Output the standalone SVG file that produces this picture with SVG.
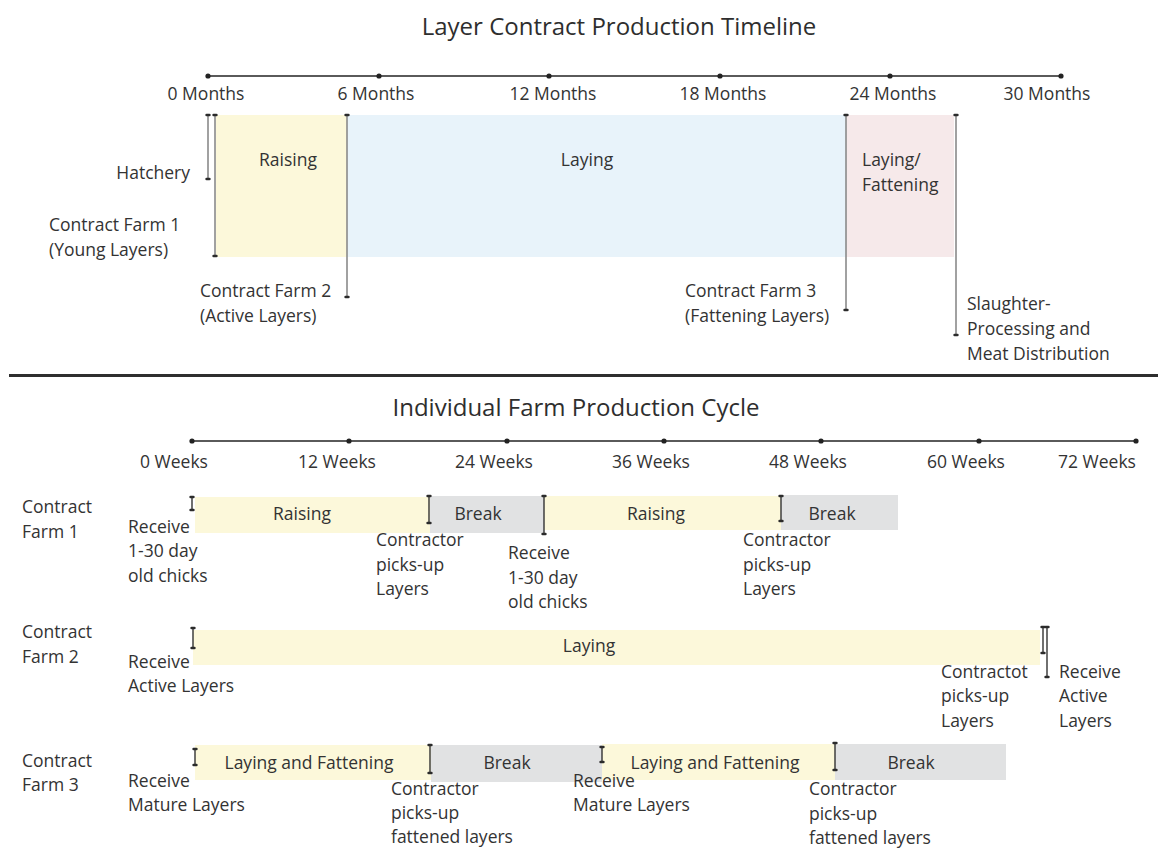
<svg xmlns="http://www.w3.org/2000/svg" width="1158" height="850" viewBox="0 0 1158 850">
  <defs>
    <style>
      text { font-family: "Open Sans", "Liberation Sans", sans-serif; fill: #333333; font-size: 17.5px; }
      .title { font-size: 24px; fill: #2e2e2e; }
      .mid { text-anchor: middle; }
      .end { text-anchor: end; }
      .axis { stroke: #5a5a5a; stroke-width: 2; fill: none; }
      .dot { fill: #222; }
      .yellow { fill: #fcf8da; }
      .blue { fill: #e8f3fa; }
      .pink { fill: #f6e9ea; }
      .grey { fill: #e1e2e3; }
      .span { stroke: #8a8a8a; stroke-width: 1.6; fill: none; marker-start: url(#cap); marker-end: url(#cap); }
      .tick { stroke: #333; stroke-width: 1.4; fill: none; marker-start: url(#cap); marker-end: url(#cap); }
    </style>
    <!-- small rounded end cap used on every vertical span -->
    <marker id="cap" markerUnits="userSpaceOnUse" viewBox="0 0 10 6" refX="5" refY="3" markerWidth="10" markerHeight="6" orient="0" overflow="visible">
      <path d="M3.6,3 H6.4" stroke="#2b2b2b" stroke-width="2.6" stroke-linecap="round"/>
    </marker>
  </defs>

  <rect width="1158" height="850" fill="#ffffff"/>

  <!-- Upper chart: layer contract production timeline -->
  <text id="title-timeline" class="title mid" x="619" y="35">Layer Contract Production Timeline</text>

  <g id="axis-months">
    <line class="axis" x1="208" y1="76" x2="1061" y2="76"/>
    <circle class="dot" cx="208" cy="76" r="2.6"/>
    <circle class="dot" cx="379" cy="76" r="2.6"/>
    <circle class="dot" cx="549" cy="76" r="2.6"/>
    <circle class="dot" cx="720" cy="76" r="2.6"/>
    <circle class="dot" cx="890" cy="76" r="2.6"/>
    <circle class="dot" cx="1061" cy="76" r="2.6"/>
    <text class="mid" x="206" y="100">0 Months</text>
    <text class="mid" x="376" y="100">6 Months</text>
    <text class="mid" x="553" y="100">12 Months</text>
    <text class="mid" x="723" y="100">18 Months</text>
    <text class="mid" x="893" y="100">24 Months</text>
    <text class="mid" x="1047" y="100">30 Months</text>
  </g>

  <g id="phase-raising">
    <rect class="yellow" x="216" y="115" width="131" height="142"/>
    <text class="mid" x="288" y="166">Raising</text>
  </g>
  <g id="phase-laying">
    <rect class="blue" x="347" y="115" width="499" height="142"/>
    <text class="mid" x="587" y="166">Laying</text>
  </g>
  <g id="phase-laying-fattening">
    <rect class="pink" x="846" y="115" width="108" height="142"/>
    <text x="862" y="166">Laying/</text>
    <text x="862" y="191">Fattening</text>
  </g>

  <g id="stage-hatchery">
    <text class="end" x="190" y="179">Hatchery</text>
  </g>
  <g id="stage-farm1">
    <text x="49" y="231">Contract Farm 1</text>
    <text x="49" y="256">(Young Layers)</text>
  </g>
  <g id="stage-farm2">
    <text x="200" y="297">Contract Farm 2</text>
    <text x="200" y="322">(Active Layers)</text>
  </g>
  <g id="stage-farm3">
    <text x="685" y="297">Contract Farm 3</text>
    <text x="685" y="322">(Fattening Layers)</text>
  </g>
  <g id="stage-slaughter">
    <text x="967" y="310">Slaughter-</text>
    <text x="967" y="335">Processing and</text>
    <text x="967" y="360">Meat Distribution</text>
  </g>

  <g id="connectors-timeline">
    <line class="span" x1="208" y1="115" x2="208" y2="179"/>
    <line class="span" x1="215" y1="115" x2="215" y2="256"/>
    <line class="span" x1="347" y1="115" x2="347" y2="297"/>
    <line class="span" x1="846" y1="115" x2="846" y2="310"/>
    <line class="span" x1="956" y1="115" x2="956" y2="335"/>
  </g>

  <!-- Section divider -->
  <line id="divider" x1="9" y1="375.5" x2="1158" y2="375.5" stroke="#2e2e2e" stroke-width="3"/>

  <!-- Lower chart: individual farm production cycle -->
  <text id="title-cycle" class="title mid" x="576" y="416">Individual Farm Production Cycle</text>

  <g id="axis-weeks">
    <line class="axis" x1="192" y1="441" x2="1136" y2="441"/>
    <circle class="dot" cx="192" cy="441" r="2.6"/>
    <circle class="dot" cx="349" cy="441" r="2.6"/>
    <circle class="dot" cx="507" cy="441" r="2.6"/>
    <circle class="dot" cx="664" cy="441" r="2.6"/>
    <circle class="dot" cx="821" cy="441" r="2.6"/>
    <circle class="dot" cx="979" cy="441" r="2.6"/>
    <circle class="dot" cx="1136" cy="441" r="2.6"/>
    <text class="mid" x="174" y="468">0 Weeks</text>
    <text class="mid" x="337" y="468">12 Weeks</text>
    <text class="mid" x="494" y="468">24 Weeks</text>
    <text class="mid" x="651" y="468">36 Weeks</text>
    <text class="mid" x="808" y="468">48 Weeks</text>
    <text class="mid" x="966" y="468">60 Weeks</text>
    <text class="mid" x="1097" y="468">72 Weeks</text>
  </g>

  <!-- Row: Contract Farm 1 -->
  <g id="row-farm1">
    <text x="22" y="513">Contract</text>
    <text x="22" y="538">Farm 1</text>
  </g>
  <g id="farm1-raising-1">
    <rect class="yellow" x="195" y="497" width="235" height="36"/>
    <text class="mid" x="302" y="520">Raising</text>
  </g>
  <g id="farm1-break-1">
    <rect class="grey" x="430" y="496" width="114" height="37"/>
    <text class="mid" x="478" y="520">Break</text>
  </g>
  <g id="farm1-raising-2">
    <rect class="yellow" x="544" y="496" width="237" height="34"/>
    <text class="mid" x="656" y="520">Raising</text>
  </g>
  <g id="farm1-break-2">
    <rect class="grey" x="781" y="495" width="117" height="35"/>
    <text class="mid" x="832" y="520">Break</text>
  </g>
  <g id="farm1-event-receive-1">
    <text x="128" y="533">Receive</text>
    <text x="128" y="557">1-30 day</text>
    <text x="128" y="582">old chicks</text>
  </g>
  <g id="farm1-event-pickup-1">
    <text x="376" y="546">Contractor</text>
    <text x="376" y="571">picks-up</text>
    <text x="376" y="595">Layers</text>
  </g>
  <g id="farm1-event-receive-2">
    <text x="508" y="559">Receive</text>
    <text x="508" y="584">1-30 day</text>
    <text x="508" y="608">old chicks</text>
  </g>
  <g id="farm1-event-pickup-2">
    <text x="743" y="546">Contractor</text>
    <text x="743" y="571">picks-up</text>
    <text x="743" y="595">Layers</text>
  </g>

  <!-- Row: Contract Farm 2 -->
  <g id="row-farm2">
    <text x="22" y="638">Contract</text>
    <text x="22" y="663">Farm 2</text>
  </g>
  <g id="farm2-laying">
    <rect class="yellow" x="193" y="630" width="847" height="35"/>
    <text class="mid" x="589" y="652">Laying</text>
  </g>
  <g id="farm2-event-receive-1">
    <text x="128" y="668">Receive</text>
    <text x="128" y="692">Active Layers</text>
  </g>
  <g id="farm2-event-pickup">
    <text x="941" y="678">Contractot</text>
    <text x="941" y="702">picks-up</text>
    <text x="941" y="727">Layers</text>
  </g>
  <g id="farm2-event-receive-2">
    <text x="1059" y="678">Receive</text>
    <text x="1059" y="702">Active</text>
    <text x="1059" y="727">Layers</text>
  </g>

  <!-- Row: Contract Farm 3 -->
  <g id="row-farm3">
    <text x="22" y="767">Contract</text>
    <text x="22" y="791">Farm 3</text>
  </g>
  <g id="farm3-fattening-1">
    <rect class="yellow" x="195" y="745" width="236" height="35"/>
    <text class="mid" x="309" y="769">Laying and Fattening</text>
  </g>
  <g id="farm3-break-1">
    <rect class="grey" x="431" y="745" width="171" height="37"/>
    <text class="mid" x="507" y="769">Break</text>
  </g>
  <g id="farm3-fattening-2">
    <rect class="yellow" x="602" y="744" width="233" height="36"/>
    <text class="mid" x="715" y="769">Laying and Fattening</text>
  </g>
  <g id="farm3-break-2">
    <rect class="grey" x="835" y="744" width="171" height="36"/>
    <text class="mid" x="911" y="769">Break</text>
  </g>
  <g id="farm3-event-receive-1">
    <text x="128" y="787">Receive</text>
    <text x="128" y="811">Mature Layers</text>
  </g>
  <g id="farm3-event-pickup-1">
    <text x="391" y="795">Contractor</text>
    <text x="391" y="819">picks-up</text>
    <text x="391" y="843">fattened layers</text>
  </g>
  <g id="farm3-event-receive-2">
    <text x="573" y="787">Receive</text>
    <text x="573" y="811">Mature Layers</text>
  </g>
  <g id="farm3-event-pickup-2">
    <text x="809" y="795">Contractor</text>
    <text x="809" y="820">picks-up</text>
    <text x="809" y="844">fattened layers</text>
  </g>

  <g id="connectors-cycle">
    <line class="tick" x1="192" y1="497" x2="192" y2="510"/>
    <line class="tick" x1="429" y1="496" x2="429" y2="523"/>
    <line class="tick" x1="544" y1="496" x2="544" y2="534"/>
    <line class="tick" x1="781" y1="496" x2="781" y2="521"/>
    <line class="tick" x1="193" y1="628" x2="193" y2="648"/>
    <line class="tick" x1="1043" y1="627" x2="1043" y2="653"/>
    <line class="tick" x1="1047" y1="627" x2="1047" y2="677"/>
    <line class="tick" x1="195" y1="749" x2="195" y2="765"/>
    <line class="tick" x1="430" y1="745" x2="430" y2="773"/>
    <line class="tick" x1="602" y1="747" x2="602" y2="762"/>
    <line class="tick" x1="835" y1="743" x2="835" y2="770"/>
  </g>
</svg>
